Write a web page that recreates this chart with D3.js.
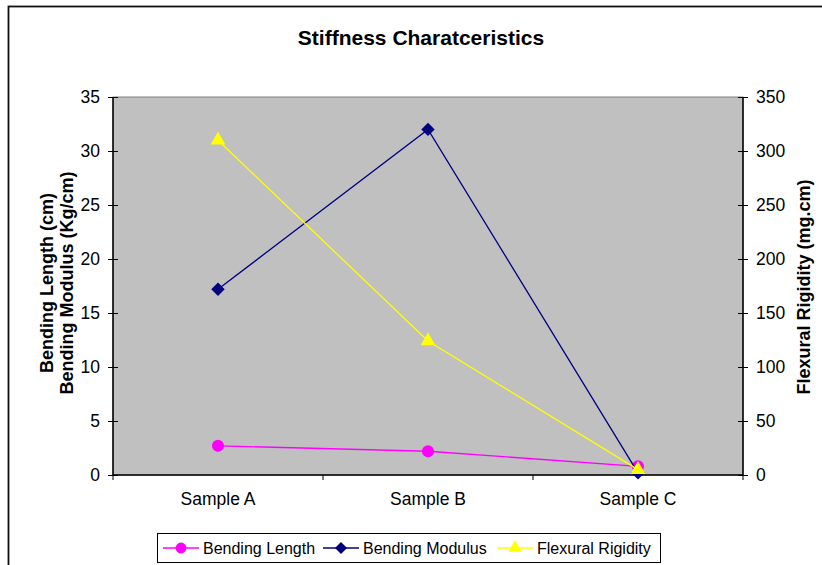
<!DOCTYPE html>
<html>
<head>
<meta charset="utf-8">
<script src="https://cdn.jsdelivr.net/npm/d3@7"></script>
<style>
  html, body { margin: 0; padding: 0; background: #fff; }
  svg { display: block; font-family: Arial, "Liberation Sans", sans-serif; }
</style>
</head>
<body>
<svg id="chart" width="822" height="565"></svg>
<script>
// Sample categories and measured values
const categories = ["Sample A", "Sample B", "Sample C"];
const bendingLength = [2.7, 2.2, 0.8];      // cm (left axis)
const bendingModulus = [17.2, 32.0, 0.2];   // Kg/cm (left axis)
const flexuralRigidity = [310, 124, 5];     // mg.cm (right axis)
const leftTicks = [0, 5, 10, 15, 20, 25, 30, 35];
const rightTicks = [0, 50, 100, 150, 200, 250, 300, 350];

const FONT = "Arial, 'Liberation Sans', sans-serif";
const svg = d3.select("#chart");
const plot = { left: 113, top: 97, right: 743, bottom: 475 };

// Outer chart frame
svg.append("rect")
  .attr("x", 8.5).attr("y", 6.5)
  .attr("width", 822).attr("height", 600)
  .attr("fill", "#fff").attr("stroke", "#111").attr("stroke-width", 1.8);

// Title
svg.append("text")
  .attr("x", 421).attr("y", 45)
  .attr("text-anchor", "middle")
  .attr("font-size", 21).attr("font-weight", "bold")
  .text("Stiffness Charatceristics");

const x = d3.scaleBand().domain(categories).range([plot.left, plot.right]);
const yL = d3.scaleLinear().domain([0, 35]).range([plot.bottom, plot.top]);
const yR = d3.scaleLinear().domain([0, 350]).range([plot.bottom, plot.top]);
const cx = d => x(d) + x.bandwidth() / 2;

// Plot background
svg.append("rect")
  .attr("x", plot.left).attr("y", plot.top)
  .attr("width", plot.right - plot.left).attr("height", plot.bottom - plot.top)
  .attr("fill", "#c0c0c0").attr("stroke", "#808080").attr("stroke-width", 1);

// Left axis
const gL = svg.append("g").attr("transform", `translate(${plot.left},0)`)
  .call(d3.axisLeft(yL).tickValues(leftTicks).tickSize(5).tickPadding(8));
gL.selectAll(".tick line").attr("x2", -5).attr("x1", 5);
// Right axis
const gR = svg.append("g").attr("transform", `translate(${plot.right},0)`)
  .call(d3.axisRight(yR).tickValues(rightTicks).tickSize(5).tickPadding(8));
gR.selectAll(".tick line").attr("x1", -5).attr("x2", 5);
// Bottom axis: ticks at category boundaries
const gB = svg.append("g").attr("transform", `translate(0,${plot.bottom})`)
  .call(d3.axisBottom(x).tickSize(0).tickPadding(18));
gB.selectAll(".tick line").remove();
const bounds = categories.map(c => x(c)).concat([plot.right]);
gB.selectAll(".bound").data(bounds).enter().append("line")
  .attr("x1", d => d).attr("x2", d => d).attr("y1", 0).attr("y2", 5)
  .attr("stroke", "#000");

[gL, gR, gB].forEach(g => {
  g.attr("font-size", 17.5).attr("font-family", FONT);
  g.select(".domain").attr("stroke", "#000").attr("stroke-width", 1.5);
  g.selectAll("text").attr("fill", "#000");
  g.selectAll(".tick line").attr("stroke", "#000");
});
gL.select(".domain").attr("d", `M0,${plot.top}V${plot.bottom}`);
gR.select(".domain").attr("d", `M0,${plot.top}V${plot.bottom}`);
gB.select(".domain").attr("d", `M${plot.left},0H${plot.right}`);

// Axis titles
const leftTitle = svg.append("text")
  .attr("transform", "translate(53,283) rotate(-90)")
  .attr("text-anchor", "middle").attr("font-size", 18).attr("font-weight", "bold");
leftTitle.append("tspan").attr("x", 0).attr("dy", 0).text("Bending Length (cm)");
leftTitle.append("tspan").attr("x", 0).attr("dy", 20).text("Bending Modulus (Kg/cm)");
svg.append("text")
  .attr("transform", "translate(810,287) rotate(-90)")
  .attr("text-anchor", "middle").attr("font-size", 18).attr("font-weight", "bold")
  .text("Flexural Rigidity (mg.cm)");

// Series
const diamond = { draw(ctx, size) { const r = Math.sqrt(size) / 2 * Math.SQRT2;
  ctx.moveTo(0, -r); ctx.lineTo(r, 0); ctx.lineTo(0, r); ctx.lineTo(-r, 0); ctx.closePath(); } };
const series = [
  { name: "Bending Length", values: bendingLength, y: yL, color: "#ff00ff", symbol: d3.symbolCircle, size: 115 },
  { name: "Bending Modulus", values: bendingModulus, y: yL, color: "#000080", symbol: diamond, size: 90 },
  { name: "Flexural Rigidity", values: flexuralRigidity, y: yR, color: "#ffff00", symbol: d3.symbolTriangle, size: 95 }
];

series.forEach(s => {
  const pts = categories.map((c, i) => [cx(c), s.y(s.values[i])]);
  svg.append("path")
    .attr("d", d3.line()(pts))
    .attr("fill", "none").attr("stroke", s.color).attr("stroke-width", 1.3);
  svg.selectAll(null).data(pts).enter().append("path")
    .attr("transform", d => `translate(${d[0]},${d[1]})`)
    .attr("d", d3.symbol().type(s.symbol).size(s.size))
    .attr("fill", s.color);
});

// Legend
svg.append("rect")
  .attr("x", 157.5).attr("y", 533.5).attr("width", 503).attr("height", 29)
  .attr("fill", "#fff").attr("stroke", "#000").attr("stroke-width", 1);
const legendX = [163, 323, 497];
series.forEach((s, i) => {
  const lx = legendX[i], ly = 548;
  svg.append("line").attr("x1", lx).attr("x2", lx + 36).attr("y1", ly).attr("y2", ly)
    .attr("stroke", s.color).attr("stroke-width", 1.3);
  svg.append("path").attr("transform", `translate(${lx + 18},${ly})`)
    .attr("d", d3.symbol().type(s.symbol).size(s.size * 0.8)).attr("fill", s.color);
  svg.append("text").attr("x", lx + 40).attr("y", ly + 6)
    .attr("font-size", 16).text(s.name);
});
</script>
</body>
</html>
